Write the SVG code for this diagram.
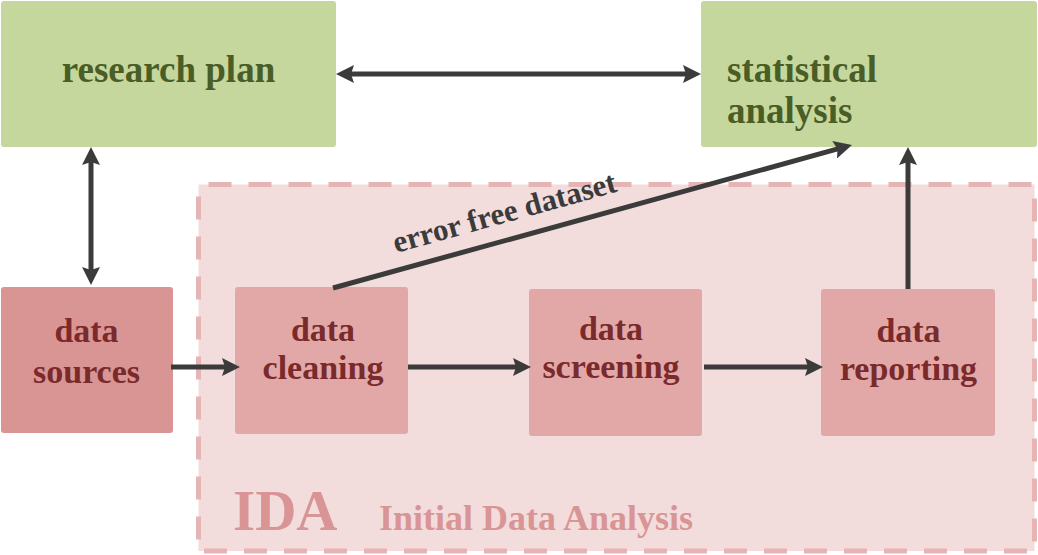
<svg xmlns="http://www.w3.org/2000/svg" width="1038" height="555" viewBox="0 0 1038 555">
<style>
.t{font-family:"Liberation Serif","Times New Roman",serif;font-weight:bold}
.gn{fill:#c5d79c}
.gt{fill:#4a5d26;font-size:37px}
.rn{fill:#e2a8a8}
.rt{fill:#7a2a2a;font-size:34px;text-anchor:middle}
.ln{stroke:#3b3b3b;stroke-width:5;fill:none}
</style>
<defs>
<marker id="ah" viewBox="0 0 18 18" refX="6" refY="9" markerWidth="18" markerHeight="18" markerUnits="userSpaceOnUse" orient="auto-start-reverse">
<path d="M0,0 L18,9 L0,18 L3,9 z" fill="#3b3b3b"/>
</marker>
</defs>
<rect width="1038" height="555" fill="#ffffff"/>
<g id="ida">
<rect x="198.5" y="184.5" width="836" height="366.5" fill="#f3dcdc" stroke="#e5b4b5" stroke-width="5" stroke-dasharray="23 17" stroke-dashoffset="-10"/>
<text class="t" x="233" y="530" font-size="57" fill="#d99595">IDA</text>
<text class="t" x="379" y="530" font-size="36" fill="#d99595">Initial Data Analysis</text>
</g>
<g id="research-plan">
<rect class="gn" x="1" y="1" width="335" height="146" rx="3"/>
<text class="t gt" x="168.5" y="82" text-anchor="middle">research plan</text>
</g>
<g id="statistical-analysis">
<rect class="gn" x="701" y="1" width="336" height="146" rx="3"/>
<text class="t gt" x="727" y="82">statistical</text>
<text class="t gt" x="727" y="123">analysis</text>
</g>
<g id="data-sources">
<rect x="1" y="287" width="172" height="146" rx="3" fill="#d99494"/>
<text class="t rt" x="86.5" y="342" font-size="36">data</text>
<text class="t rt" x="86.5" y="383" font-size="36">sources</text>
</g>
<g id="data-cleaning">
<rect class="rn" x="235" y="287" width="173" height="147" rx="3"/>
<text class="t rt" x="323" y="341">data</text>
<text class="t rt" x="323" y="379">cleaning</text>
</g>
<g id="data-screening">
<rect class="rn" x="529" y="289" width="173" height="147" rx="3"/>
<text class="t rt" x="611" y="340">data</text>
<text class="t rt" x="611" y="378">screening</text>
</g>
<g id="data-reporting">
<rect class="rn" x="821" y="289" width="174" height="147" rx="3"/>
<text class="t rt" x="908.5" y="342">data</text>
<text class="t rt" x="908.5" y="380">reporting</text>
</g>
<g id="connectors">
<line class="ln" x1="348" y1="74" x2="689" y2="74" marker-start="url(#ah)" marker-end="url(#ah)"/>
<line class="ln" x1="91" y1="159" x2="91" y2="273" marker-start="url(#ah)" marker-end="url(#ah)"/>
<line class="ln" x1="171" y1="367" x2="228" y2="367" marker-end="url(#ah)"/>
<line class="ln" x1="408" y1="367" x2="519" y2="367" marker-end="url(#ah)"/>
<line class="ln" x1="704" y1="367" x2="811" y2="367" marker-end="url(#ah)"/>
<line class="ln" x1="908" y1="289" x2="908" y2="159" marker-end="url(#ah)"/>
<line class="ln" x1="333" y1="288" x2="840.4" y2="148.2" marker-end="url(#ah)"/>
<text class="t" transform="translate(396,253) rotate(-15.5)" font-size="31" fill="#3b3b3b">error free dataset</text>
</g>
</svg>
